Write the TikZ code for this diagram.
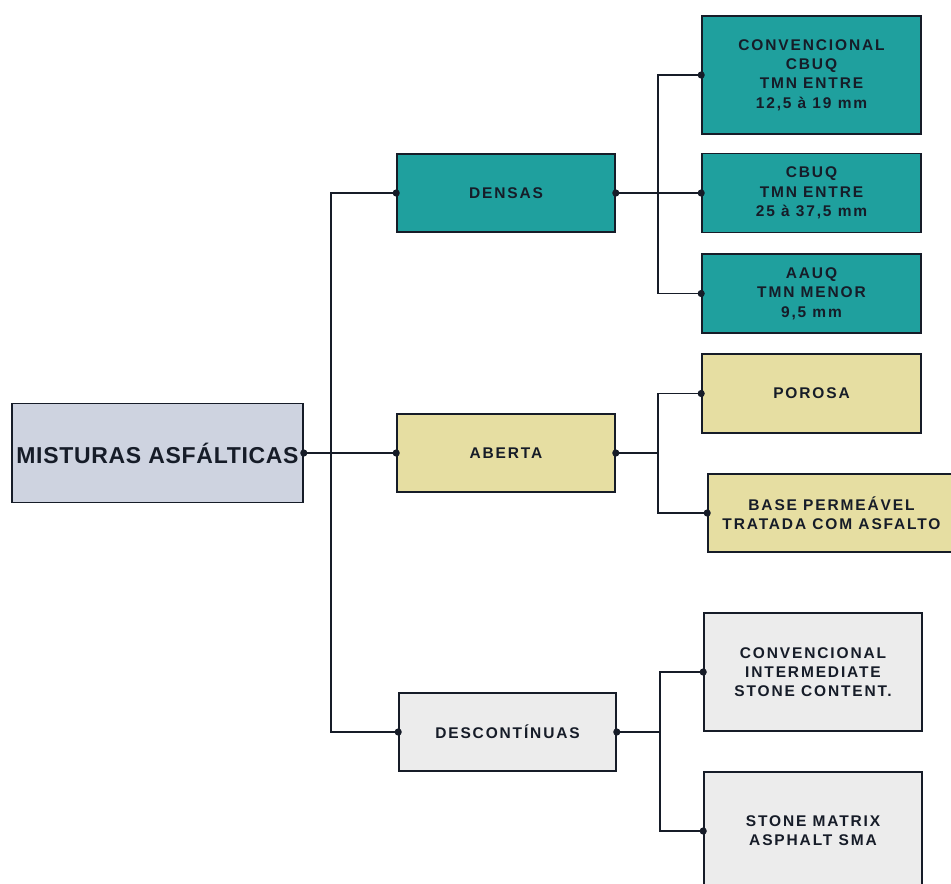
\documentclass[tikz,border=0pt]{standalone}
\usepackage{fontspec}
\newfontfamily\lblfont[LetterSpace=12]{Liberation Sans}
\newfontfamily\rootfont[LetterSpace=3]{Liberation Sans}
\definecolor{tealbox}{RGB}{31,160,158}
\definecolor{khakibox}{RGB}{230,222,162}
\definecolor{rootbox}{RGB}{206,211,224}
\definecolor{greybox}{RGB}{236,236,236}
\definecolor{inkc}{RGB}{22,28,40}
\tikzset{
  box/.style={draw=inkc, line width=1.6pt, rectangle, inner sep=0pt, align=center,
    text=inkc, font=\lblfont\bfseries\fontsize{15.5}{19.3}\selectfont},
  wire/.style={draw=inkc, line width=1.2pt},
  joint/.style={fill=inkc, draw=none}
}
\begin{document}
\begin{tikzpicture}[x=1pt,y=-1pt]
\useasboundingbox (0,0) rectangle (951,884);
\clip (0,0) rectangle (951,884);
% root
\node[box, fill=rootbox, minimum width=291pt, minimum height=99pt,
  font=\rootfont\bfseries\fontsize{23}{27}\selectfont] (root) at (157.5,453) {MISTURAS ASFÁLTICAS};
% middle level
\node[box, fill=tealbox, minimum width=218pt, minimum height=78pt] (densas) at (506,193) {DENSAS};
\node[box, fill=khakibox, minimum width=218pt, minimum height=78pt] (aberta) at (506,453) {ABERTA};
\node[box, fill=greybox, minimum width=217pt, minimum height=78pt] (desc) at (507.5,732) {DESCONTÍNUAS};
% dense mixes
\node[box, fill=tealbox, minimum width=219pt, minimum height=118pt] (c1) at (811.5,75) {CONVENCIONAL\\CBUQ\\TMN ENTRE\\12,5 à 19 mm};
\node[box, fill=tealbox, minimum width=219pt, minimum height=79pt] (c2) at (811.5,193) {CBUQ\\TMN ENTRE\\25 à 37,5 mm};
\node[box, fill=tealbox, minimum width=219pt, minimum height=79pt] (c3) at (811.5,293.5) {AAUQ\\TMN MENOR\\9,5 mm};
% open mixes
\node[box, fill=khakibox, minimum width=219pt, minimum height=79pt] (por) at (811.5,393.5) {POROSA};
\node[box, fill=khakibox, minimum width=247pt, minimum height=78pt] (base) at (831.5,513) {BASE PERMEÁVEL\\TRATADA COM ASFALTO};
% gap-graded mixes
\node[box, fill=greybox, minimum width=218pt, minimum height=118pt] (ci) at (813,672) {CONVENCIONAL\\INTERMEDIATE\\STONE CONTENT.};
\node[box, fill=greybox, minimum width=218pt, minimum height=118pt] (sma) at (813,831) {STONE MATRIX\\ASPHALT SMA};
% branch points
\coordinate (t1) at (331,453);
\coordinate (t2) at (658,193);
\coordinate (t3) at (658,453);
\coordinate (t4) at (660,732);
% connectors
\draw[wire] (root.east) -- (aberta.west);
\draw[wire] (densas.west) -| (t1) |- (desc.west);
\draw[wire] (densas.east) -- (c2.west);
\draw[wire] (c1.west) -| (t2) |- (c3.west);
\draw[wire] (aberta.east) -- (t3);
\draw[wire] (por.west) -| (t3) |- (base.west);
\draw[wire] (desc.east) -- (t4);
\draw[wire] (ci.west) -| (t4) |- (sma.west);
% joints
\foreach \p in {root.east, densas.west, aberta.west, desc.west, densas.east, aberta.east, desc.east,
  c1.west, c2.west, c3.west, por.west, base.west, ci.west, sma.west}
  \fill[joint] (\p) circle (3.6pt);
\end{tikzpicture}
\end{document}
